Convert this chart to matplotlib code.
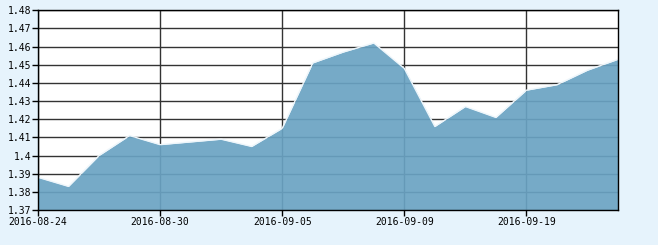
import matplotlib
matplotlib.use("Agg")
import matplotlib.pyplot as plt

dates = ["2016-08-24", "2016-08-25", "2016-08-26", "2016-08-29", "2016-08-30",
         "2016-08-31", "2016-09-01", "2016-09-02", "2016-09-05", "2016-09-06",
         "2016-09-07", "2016-09-08", "2016-09-09", "2016-09-12", "2016-09-13",
         "2016-09-14", "2016-09-19", "2016-09-20", "2016-09-21", "2016-09-22"]
values = [1.388, 1.383, 1.400, 1.411, 1.406,
          1.4075, 1.409, 1.405, 1.415, 1.451,
          1.457, 1.462, 1.448, 1.416, 1.427,
          1.421, 1.436, 1.439, 1.447, 1.453]
ytick_values = [1.37, 1.38, 1.39, 1.40, 1.41, 1.42, 1.43, 1.44, 1.45, 1.46, 1.47, 1.48]
ytick_labels = ["1.37", "1.38", "1.39", "1.4", "1.41", "1.42", "1.43", "1.44", "1.45", "1.46", "1.47", "1.48"]
xtick_idx = [0, 4, 8, 12, 16]

W, H = 658, 245
fig = plt.figure(figsize=(W / 100, H / 100), dpi=100)
fig.patch.set_facecolor("#e6f3fc")
ax = fig.add_axes([38 / W, (H - 210) / H, (618 - 38) / W, (210 - 10.3) / H])
ax.set_facecolor("white")

x = list(range(len(values)))
ax.fill_between(x, 1.37, values, color="#6aa3c3", alpha=0.92, lw=0, zorder=3)
ax.plot(x, values, color="#eef6fb", lw=1.0, zorder=4)

ax.set_xlim(0, len(values) - 1)
ax.set_ylim(1.37, 1.48)
ax.set_yticks(ytick_values)
ax.set_yticklabels(ytick_labels)
ax.set_xticks(xtick_idx)
ax.set_xticklabels([dates[i] for i in xtick_idx])
ax.grid(True, color="#333333", lw=1.0, zorder=1)
ax.set_axisbelow(True)
for s in ax.spines.values():
    s.set_color("black")
    s.set_linewidth(1.0)
    s.set_zorder(5)
ax.tick_params(axis="both", direction="out", length=4, width=1, color="black",
               labelsize=7, pad=1)
for lab in ax.get_xticklabels() + ax.get_yticklabels():
    lab.set_family("DejaVu Sans Mono")

fig.savefig("out.png", dpi=100, facecolor=fig.get_facecolor())
